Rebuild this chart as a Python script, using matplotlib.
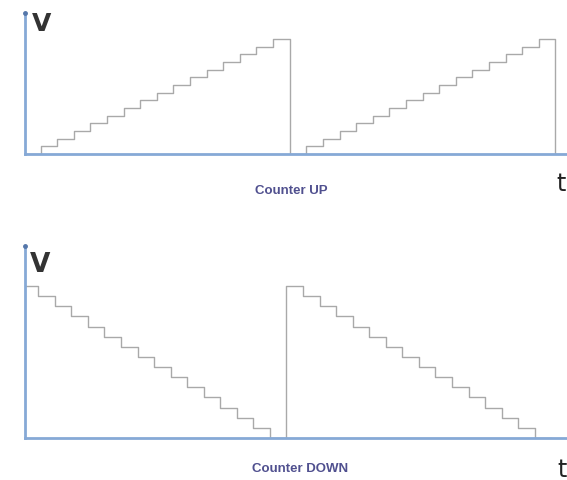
import matplotlib.pyplot as plt

# counter output level per clock step (4-bit counter, two cycles each)
counter_up = [0, 1, 2, 3, 4, 5, 6, 7, 8, 9, 10, 11, 12, 13, 14, 15,
              0, 1, 2, 3, 4, 5, 6, 7, 8, 9, 10, 11, 12, 13, 14, 15, 0]
counter_down = [15, 14, 13, 12, 11, 10, 9, 8, 7, 6, 5, 4, 3, 2, 1, 0,
                15, 14, 13, 12, 11, 10, 9, 8, 7, 6, 5, 4, 3, 2, 1, 0]
titles = ["Counter UP", "Counter DOWN"]

axis_col = "#86a9d6"
step_col = "#a9a9a9"
text_col = "#50508f"

fig = plt.figure(figsize=(5.67, 4.81), dpi=100)

def panel(rect, levels, xlim, ylim):
    ax = fig.add_axes(rect)
    t = list(range(len(levels)))
    ax.step(t + [len(levels)], levels + [levels[-1]], where="post",
            color=step_col, lw=1.0, zorder=2)
    ax.set_xlim(*xlim)
    ax.set_ylim(*ylim)
    for s in ["top", "right"]:
        ax.spines[s].set_visible(False)
    for s in ["left", "bottom"]:
        ax.spines[s].set_color(axis_col)
        ax.spines[s].set_linewidth(2.0)
        ax.spines[s].set_zorder(3)
    ax.set_xticks([])
    ax.set_yticks([])
    ax.patch.set_alpha(0)
    ax.plot([0], [1], marker="o", ms=2.5, color="#5577aa",
            transform=ax.transAxes, clip_on=False, zorder=4)
    return ax

# top: counter up
ax1 = panel([25 / 567, 1 - 155 / 481, 542 / 567, 141 / 481],
            counter_up, (0.06, 32.7), (0, 18.4))
# bottom: counter down
ax2 = panel([25 / 567, 1 - 439 / 481, 542 / 567, 192 / 481],
            counter_down, (0.2, 32.95), (0, 18.95))

fig.text(42 / 567, 1 - 24 / 481, "V", fontsize=18, color="#333333",
         ha="center", va="center", family="DejaVu Sans", weight="bold")
fig.text(40 / 567, 1 - 265 / 481, "V", fontsize=19, color="#333333",
         ha="center", va="center", family="DejaVu Sans", weight="bold")
fig.text(561 / 567, 1 - 184 / 481, "t", fontsize=17, color="#222222",
         ha="center", va="center", family="DejaVu Sans")
fig.text(562 / 567, 1 - 470 / 481, "t", fontsize=17, color="#222222",
         ha="center", va="center", family="DejaVu Sans")

fig.text(291 / 567, 1 - 191 / 481, titles[0], fontsize=9.5, color=text_col,
         ha="center", va="center", family="Liberation Sans", weight="bold")
fig.text(300 / 567, 1 - 469 / 481, titles[1], fontsize=9.5, color=text_col,
         ha="center", va="center", family="Liberation Sans", weight="bold")

fig.savefig("out.png", dpi=100)
